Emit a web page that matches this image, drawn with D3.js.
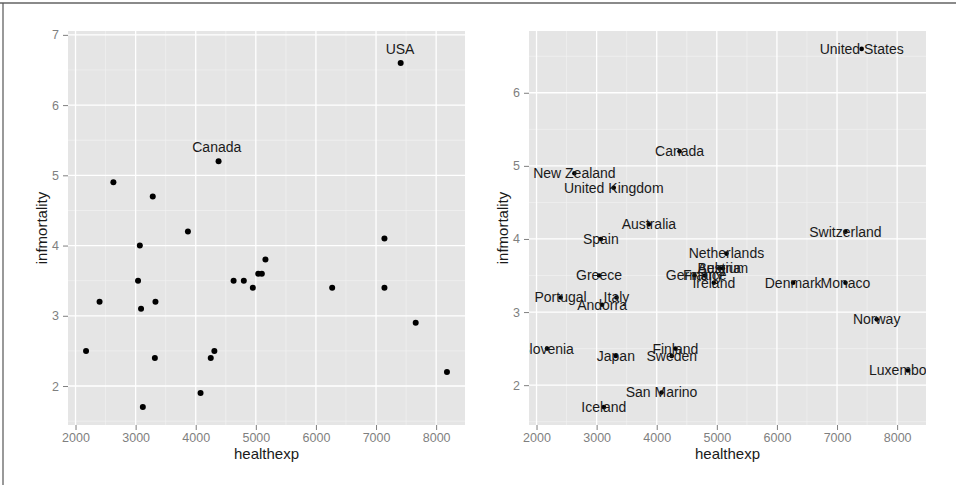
<!DOCTYPE html>
<html>
<head>
<meta charset="utf-8">
<script src="https://cdn.jsdelivr.net/npm/d3@7"></script>
<style>
  body { margin: 0; background: #fff; }
  svg { display: block; font-family: "Liberation Sans", Arial, sans-serif; }
</style>
</head>
<body>
<div id="chart"></div>
<script>
// data: countries with health expenditure > 2000 (2009)
const countries = ["Andorra", "Australia", "Austria", "Belgium", "Canada", "Denmark", "Finland",
  "France", "Germany", "Greece", "Iceland", "Ireland", "Italy", "Japan", "Luxembourg", "Monaco",
  "Netherlands", "New Zealand", "Norway", "Portugal", "San Marino", "Slovenia", "Spain", "Sweden",
  "Switzerland", "United Kingdom", "United States"];
const healthexp = [3090, 3870, 5040, 5100, 4380, 6270, 4310,
  4800, 4630, 3040, 3120, 4950, 3330, 3320, 8180, 7140,
  5160, 2630, 7660, 2400, 4080, 2175, 3070, 4250,
  7140, 3285, 7410];
const infmortality = [3.1, 4.2, 3.6, 3.6, 5.2, 3.4, 2.5,
  3.5, 3.5, 3.5, 1.7, 3.4, 3.2, 2.4, 2.2, 3.4,
  3.8, 4.9, 2.9, 3.2, 1.9, 2.5, 4.0, 2.4,
  4.1, 4.7, 6.6];

// annotations on the left panel
const noteLabels = ["Canada", "USA"];
const noteX = [4350, 7400];
const noteY = [5.4, 6.8];

const xTicks = [2000, 3000, 4000, 5000, 6000, 7000, 8000];
const yTicksLeft = [2, 3, 4, 5, 6, 7];
const yTicksRight = [2, 3, 4, 5, 6];

const W = 956, H = 485;

const svg = d3.select("#chart").append("svg")
  .attr("width", W)
  .attr("height", H);

// frame lines (top + left)
svg.append("line").attr("x1", 0).attr("x2", W).attr("y1", 3).attr("y2", 3)
  .attr("stroke", "#8a8a8a").attr("stroke-width", 2);
svg.append("line").attr("x1", 3).attr("x2", 3).attr("y1", 3).attr("y2", H)
  .attr("stroke", "#555").attr("stroke-width", 1.2);

const points = countries.map((c, i) => ({ name: c, x: healthexp[i], y: infmortality[i] }));
const notes = noteLabels.map((t, i) => ({ name: t, x: noteX[i], y: noteY[i] }));

// ggplot style 5% expansion
function expand(ext) {
  const pad = (ext[1] - ext[0]) * 0.05;
  return [ext[0] - pad, ext[1] + pad];
}

function minors(ticks, domain) {
  const step = ticks[1] - ticks[0];
  const out = [ticks[0] - step / 2].concat(ticks.map(t => t + step / 2));
  return out.filter(v => v > domain[0] && v < domain[1]);
}

function panel(opts) {
  const { left, right, top, bottom, yTicks, labelled, id } = opts;

  const allX = points.map(d => d.x).concat(labelled ? [] : notes.map(d => d.x));
  const allY = points.map(d => d.y).concat(labelled ? [] : notes.map(d => d.y));

  const x = d3.scaleLinear().domain(expand(d3.extent(allX))).range([left, right]);
  const y = d3.scaleLinear().domain(expand(d3.extent(allY))).range([bottom, top]);

  const g = svg.append("g");

  svg.append("clipPath").attr("id", id)
    .append("rect")
    .attr("x", left).attr("y", top)
    .attr("width", right - left).attr("height", bottom - top);

  g.append("rect")
    .attr("x", left).attr("y", top)
    .attr("width", right - left).attr("height", bottom - top)
    .attr("fill", "#e5e5e5");

  // minor grid
  g.selectAll(".mx").data(minors(xTicks, x.domain())).join("line")
    .attr("x1", d => x(d)).attr("x2", d => x(d))
    .attr("y1", top).attr("y2", bottom)
    .attr("stroke", "#f2f2f2").attr("stroke-width", 0.7);
  g.selectAll(".my").data(minors(yTicks, y.domain())).join("line")
    .attr("y1", d => y(d)).attr("y2", d => y(d))
    .attr("x1", left).attr("x2", right)
    .attr("stroke", "#f2f2f2").attr("stroke-width", 0.7);

  // major grid
  g.selectAll(".gx").data(xTicks).join("line")
    .attr("x1", d => x(d)).attr("x2", d => x(d))
    .attr("y1", top).attr("y2", bottom)
    .attr("stroke", "#fff").attr("stroke-width", 1.3);
  g.selectAll(".gy").data(yTicks).join("line")
    .attr("y1", d => y(d)).attr("y2", d => y(d))
    .attr("x1", left).attr("x2", right)
    .attr("stroke", "#fff").attr("stroke-width", 1.3);

  // axes
  const xAxis = g.append("g")
    .attr("transform", `translate(0,${bottom})`)
    .call(d3.axisBottom(x).tickValues(xTicks).tickSize(5).tickPadding(3).tickFormat(d3.format("d")));
  const yAxis = g.append("g")
    .attr("transform", `translate(${left},0)`)
    .call(d3.axisLeft(y).tickValues(yTicks).tickSize(5).tickPadding(4).tickFormat(d3.format("d")));
  [xAxis, yAxis].forEach(a => {
    a.select(".domain").remove();
    a.selectAll("line").attr("stroke", "#7f7f7f");
    a.selectAll("text").attr("fill", "#7f7f7f").style("font-size", "12.5px")
      .style("font-family", "Liberation Sans, Arial, sans-serif");
  });

  // axis titles
  g.append("text")
    .attr("x", (left + right) / 2).attr("y", bottom + 34)
    .attr("text-anchor", "middle")
    .style("font-size", "15px").attr("fill", "#1a1a1a")
    .text("healthexp");
  g.append("text")
    .attr("transform", `translate(${left - 21},${(top + bottom) / 2}) rotate(-90)`)
    .attr("text-anchor", "middle")
    .style("font-size", "15px").attr("fill", "#1a1a1a")
    .text("infmortality");

  const plot = g.append("g").attr("clip-path", `url(#${id})`);

  plot.selectAll("circle").data(points).join("circle")
    .attr("cx", d => x(d.x)).attr("cy", d => y(d.y))
    .attr("r", labelled ? 2.3 : 3)
    .attr("fill", "#000");

  const texts = labelled ? points : notes;
  plot.selectAll("text").data(texts).join("text")
    .attr("x", d => x(d.x)).attr("y", d => y(d.y))
    .attr("dy", "0.35em")
    .attr("text-anchor", "middle")
    .style("font-size", "14px")
    .attr("fill", "#1a1a1a")
    .text(d => d.name);
}

panel({ id: "clipL", left: 68, right: 465, top: 31, bottom: 425, yTicks: yTicksLeft, labelled: false });
panel({ id: "clipR", left: 529, right: 926, top: 31, bottom: 425, yTicks: yTicksRight, labelled: true });
</script>
</body>
</html>
